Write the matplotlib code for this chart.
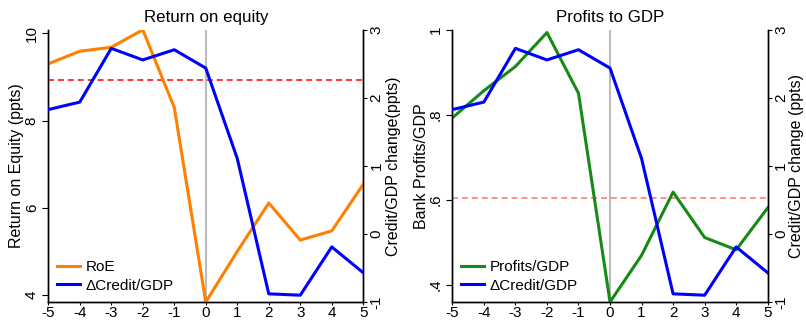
import matplotlib
matplotlib.use("Agg")
import matplotlib.pyplot as plt
from matplotlib.ticker import FuncFormatter

plt.rcParams['font.family'] = ['Liberation Sans', 'DejaVu Sans']
plt.rcParams['axes.unicode_minus'] = False

years = [-5, -4, -3, -2, -1, 0, 1, 2, 3, 4, 5]
roe = [9.30, 9.59, 9.68, 10.08, 8.30, 3.84, 5.00, 6.11, 5.26, 5.47, 6.54]
credit = [1.83, 1.94, 2.73, 2.56, 2.71, 2.44, 1.11, -0.88, -0.90, -0.19, -0.57]
profits = [0.793, 0.857, 0.914, 0.994, 0.851, 0.359, 0.469, 0.618, 0.511, 0.482, 0.581]
roe_ref = 8.93
profits_ref = 0.605
roe_ticks = [4, 6, 8, 10]
prof_ticks = [0.4, 0.6, 0.8, 1.0]
credit_ticks = [-1, 0, 1, 2, 3]

fig = plt.figure(figsize=(8.06, 3.22), dpi=100)
ORANGE = '#ff8000'
BLUE = '#0000ff'
GREEN = '#168a16'
LW = 2.2
TICK_FS = 11
LABEL_FS = 11.5
TITLE_FS = 12.2
LEG_FS = 11


def setup(ax, ax2, left_lab_x, right_lab_x):
    ax.spines['top'].set_visible(False)
    ax2.spines['top'].set_visible(False)
    for a in (ax, ax2):
        for s in a.spines.values():
            s.set_linewidth(1.0)
    ax.set_xlim(-5, 5)
    ax.set_xticks(years)
    ax.tick_params(axis='x', labelsize=TICK_FS, length=2.5, pad=0.5)
    ax.tick_params(axis='y', labelsize=TICK_FS, length=4.3, pad=2.5)
    for lbl in ax.get_yticklabels():
        lbl.set_rotation(90)
        lbl.set_va('center')
    ax2.set_ylim(-1, 3)
    ax2.set_yticks(credit_ticks)
    ax2.tick_params(axis='y', labelsize=TICK_FS, length=3, pad=1.5)
    for lbl in ax2.get_yticklabels():
        lbl.set_rotation(90)
        lbl.set_va('center')
    ax.yaxis.set_label_coords(left_lab_x, 0.5)
    ax.yaxis.label.set_va('center')
    ax2.yaxis.set_label_coords(right_lab_x, 0.5)
    ax2.yaxis.label.set_va('center')


def legend(ax, handles, labels):
    ax.legend(handles, labels, loc='lower left', frameon=False,
              fontsize=LEG_FS, handlelength=1.45, handletextpad=0.4,
              labelspacing=0.3, borderpad=0.4, borderaxespad=0.2)


# Left panel
ax1 = fig.add_axes([0.0599, 0.0621, 0.3908, 0.8447])
ax1b = ax1.twinx()
ax1.set_ylim(3.84, 10.076)
ax1.set_yticks(roe_ticks)
ax1.set_yticklabels([str(t) for t in roe_ticks])
ax1.axvline(0, color='#bbbbbb', lw=1.5, zorder=1)
ax1.axhline(roe_ref, color='#ff0000', lw=1.1, ls=(0, (3.9, 2.6)), zorder=2)
l1, = ax1.plot(years, roe, color=ORANGE, lw=LW, zorder=3)
l2, = ax1b.plot(years, credit, color=BLUE, lw=LW, zorder=3)
ax1.set_title('Return on equity', fontsize=TITLE_FS, pad=5.5)
ax1.set_ylabel('Return on Equity (ppts)', fontsize=LABEL_FS)
ax1b.set_ylabel('Credit/GDP change(ppts)', fontsize=LABEL_FS, rotation=90)
setup(ax1, ax1b, -0.101, 1.096)
legend(ax1, [l1, l2], ['RoE', 'ΔCredit/GDP'])

# Right panel
ax2 = fig.add_axes([0.5612, 0.0621, 0.3913, 0.8447])
ax2b = ax2.twinx()
ax2.set_ylim(0.359, 1.0)
ax2.set_yticks(prof_ticks)
ax2.yaxis.set_major_formatter(FuncFormatter(
    lambda v, p: '1' if abs(v - 1) < 1e-9 else ('%.1f' % v).lstrip('0')))
ax2.axvline(0, color='#bbbbbb', lw=1.5, zorder=1)
ax2.axhline(profits_ref, color='#ff7070', lw=1.1, ls=(0, (3.9, 2.6)), zorder=2)
l3, = ax2.plot(years, profits, color=GREEN, lw=LW, zorder=3)
l4, = ax2b.plot(years, credit, color=BLUE, lw=LW, zorder=3)
ax2.set_title('Profits to GDP', fontsize=TITLE_FS, pad=5.5)
ax2.set_ylabel('Bank Profits/GDP', fontsize=LABEL_FS)
ax2b.set_ylabel('Credit/GDP change (ppts)', fontsize=LABEL_FS, rotation=90)
setup(ax2, ax2b, -0.099, 1.091)
legend(ax2, [l3, l4], ['Profits/GDP', 'ΔCredit/GDP'])

fig.savefig('out.png', dpi=100)
